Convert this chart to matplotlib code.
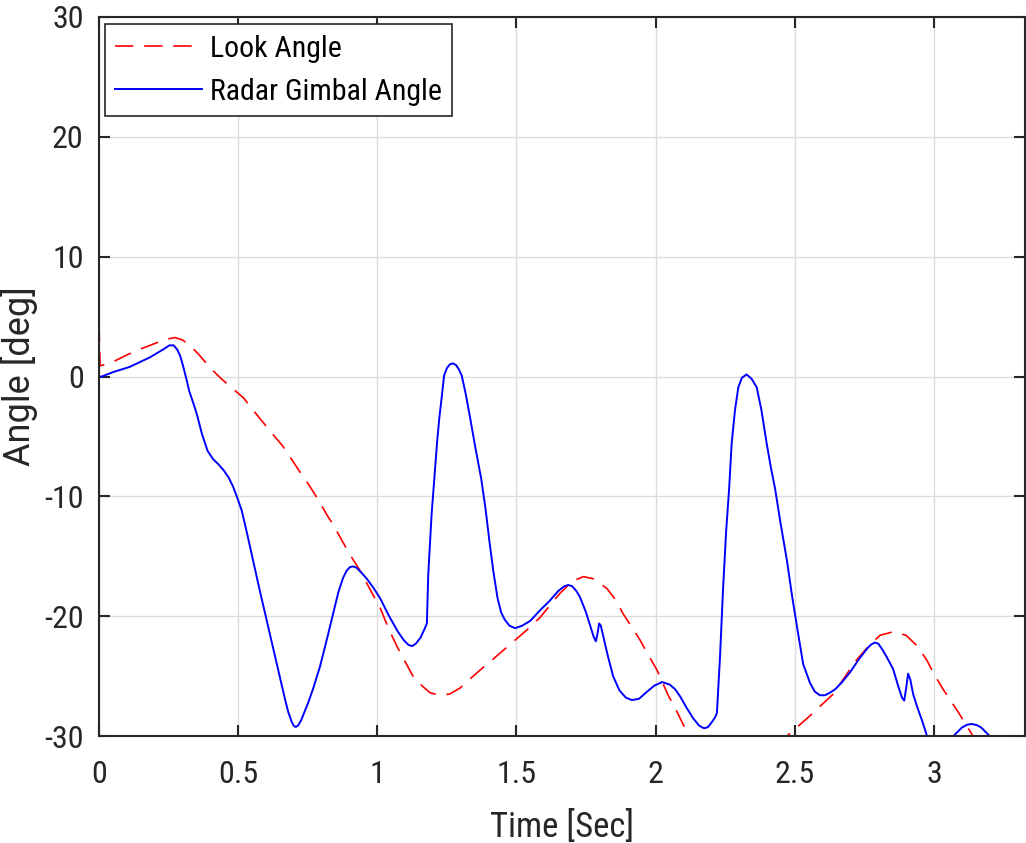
import matplotlib
matplotlib.use("Agg")
import matplotlib.pyplot as plt
from matplotlib import font_manager

# ---------------- data ----------------
look_t = [0.0, 0.004, 0.04, 0.1, 0.15, 0.2, 0.24, 0.273, 0.30, 0.327, 0.36, 0.40, 0.44, 0.48,
          0.52, 0.55, 0.585, 0.62, 0.66, 0.686, 0.72, 0.75, 0.783, 0.82, 0.84, 0.866, 0.90,
          0.938, 0.97, 1.01, 1.04, 1.07, 1.10, 1.128, 1.16, 1.19, 1.225, 1.26, 1.297, 1.33,
          1.369, 1.40, 1.45, 1.50, 1.54, 1.585, 1.62, 1.656, 1.70, 1.74, 1.78, 1.825, 1.855,
          1.883, 1.914, 1.944, 1.975, 2.005, 2.045, 2.075, 2.098, 2.12, 2.17, 2.23, 2.29,
          2.35, 2.41, 2.472, 2.555, 2.638, 2.72, 2.765, 2.806, 2.854, 2.90, 2.94, 2.975,
          2.997, 3.03, 3.087, 3.14, 3.2, 3.27, 3.33]
look_a = [4.5, 0.9, 1.1, 1.8, 2.3, 2.75, 3.1, 3.25, 3.05, 2.6, 1.8, 0.7, -0.2, -1.0,
          -1.8, -2.7, -3.7, -4.7, -5.8, -6.7, -7.9, -8.9, -10.1, -11.6, -12.3, -13.4, -14.8,
          -16.2, -17.6, -19.3, -21.0, -22.5, -23.8, -25.0, -25.8, -26.4, -26.6, -26.5, -26.0, -25.3,
          -24.5, -23.9, -22.9, -21.9, -21.1, -20.1, -19.1, -18.1, -17.1, -16.7, -16.9, -17.7, -18.6,
          -19.8, -20.9, -22.0, -23.3, -24.5, -26.6, -27.9, -29.0, -30.0, -32.5, -34.3, -35.0,
          -34.5, -32.6, -30.0, -28.3, -26.5, -23.7, -22.5, -21.6, -21.3, -21.6, -22.5, -23.7,
          -24.7, -26.0, -28.0, -30.0, -32.2, -34.5, -36.0]

gimbal_t = [0.0, 0.01, 0.05, 0.11, 0.183, 0.23, 0.253, 0.268, 0.281, 0.292, 0.303, 0.315,
            0.324, 0.34, 0.351, 0.37, 0.39, 0.41, 0.428, 0.447, 0.465, 0.482, 0.498, 0.513,
            0.533, 0.554, 0.578, 0.603, 0.627, 0.65, 0.668, 0.68, 0.692, 0.700, 0.707, 0.716,
            0.726, 0.738, 0.752, 0.77, 0.794, 0.818, 0.841, 0.86, 0.877, 0.89, 0.902, 0.913,
            0.925, 0.94, 0.963, 0.985, 1.01, 1.04, 1.074, 1.095, 1.112, 1.125, 1.138, 1.155,
            1.171, 1.178, 1.183, 1.195, 1.205, 1.215, 1.223, 1.232, 1.240, 1.25, 1.26, 1.271,
            1.283, 1.293, 1.303, 1.318, 1.333, 1.352, 1.373, 1.388, 1.403, 1.417, 1.432, 1.445,
            1.458, 1.475, 1.495, 1.52, 1.549, 1.585, 1.62, 1.65, 1.672, 1.686, 1.70, 1.715,
            1.728, 1.75, 1.777, 1.785, 1.79, 1.797, 1.803, 1.81, 1.828, 1.847, 1.87, 1.893,
            1.915, 1.94, 1.969, 1.995, 2.023, 2.05, 2.07, 2.088, 2.11, 2.134, 2.155, 2.168,
            2.177, 2.188, 2.20, 2.212, 2.22, 2.231, 2.242, 2.253, 2.264, 2.273, 2.285, 2.297,
            2.31, 2.327, 2.345, 2.363, 2.38, 2.399, 2.414, 2.429, 2.447, 2.472, 2.49, 2.508,
            2.53, 2.555, 2.572, 2.59, 2.608, 2.625, 2.645, 2.67, 2.698, 2.73, 2.76, 2.775,
            2.788, 2.80, 2.815, 2.83, 2.853, 2.871, 2.885, 2.893, 2.9, 2.907, 2.915, 2.925,
            2.94, 2.957, 2.975, 2.995, 3.02, 3.045, 3.07, 3.10, 3.12, 3.137, 3.155, 3.17,
            3.2, 3.23, 3.27, 3.33]
gimbal_a = [0.0, 0.0, 0.36, 0.8, 1.6, 2.25, 2.6, 2.6, 2.25, 1.7, 0.8, -0.3,
            -1.2, -2.3, -3.1, -4.8, -6.2, -6.9, -7.3, -7.8, -8.4, -9.2, -10.2, -11.2,
            -13.2, -15.4, -17.9, -20.4, -22.8, -25.1, -26.9, -28.0, -28.8, -29.15, -29.25, -29.1,
            -28.7, -28.0, -27.2, -26.0, -24.2, -22.0, -19.8, -18.0, -16.8, -16.2, -15.9, -15.85,
            -15.95, -16.3, -16.9, -17.6, -18.5, -19.9, -21.3, -22.0, -22.4, -22.5, -22.3, -21.8,
            -21.0, -20.6, -16.5, -11.5, -8.5, -5.4, -3.4, -1.6, 0.1, 0.7, 1.0, 1.1,
            0.95, 0.6, 0.1, -1.5, -3.4, -5.9, -8.5, -10.9, -13.8, -16.3, -18.5, -19.7,
            -20.3, -20.8, -21.0, -20.8, -20.4, -19.5, -18.7, -17.9, -17.5, -17.4, -17.5, -17.9,
            -18.4, -19.7, -21.7, -22.1, -21.6, -20.6, -20.8, -21.5, -23.3, -25.0, -26.2, -26.8,
            -27.0, -26.9, -26.3, -25.8, -25.5, -25.7, -26.1, -26.7, -27.6, -28.5, -29.1, -29.3,
            -29.35, -29.25, -28.9, -28.5, -28.1, -23.5, -17.8, -13.0, -9.35, -5.6, -2.8, -0.9,
            -0.1, 0.17, -0.2, -0.9, -2.8, -5.6, -7.6, -9.35, -12.0, -15.4, -18.3, -20.9,
            -24.0, -25.6, -26.3, -26.6, -26.6, -26.4, -26.1, -25.5, -24.7, -23.6, -22.7, -22.35,
            -22.2, -22.3, -22.8, -23.4, -24.4, -25.8, -26.8, -27.05, -26.0, -24.8, -25.3, -26.5,
            -27.6, -28.7, -30.0, -31.0, -31.4, -30.8, -30.0, -29.3, -29.05, -29.0, -29.1, -29.3,
            -30.0, -31.0, -32.5, -34.0]

x_ticks = [0, 0.5, 1, 1.5, 2, 2.5, 3]
x_tick_labels = ["0", "0.5", "1", "1.5", "2", "2.5", "3"]
y_ticks = [-30, -20, -10, 0, 10, 20, 30]
y_tick_labels = ["-30", "-20", "-10", "0", "10", "20", "30"]
series_labels = ["Look Angle", "Radar Gimbal Angle"]
x_label = "Time [Sec]"
y_label = "Angle [deg]"

# ---------------- style ----------------
names = {f.name for f in font_manager.fontManager.ttflist}
narrow = next((n for n in ["Liberation Sans Narrow", "Roboto Condensed", "Archivo Narrow",
                            "PT Sans Narrow"] if n in names), "Liberation Sans")
plt.rcParams["font.family"] = [narrow, "DejaVu Sans"]
plt.rcParams["axes.unicode_minus"] = False
axc = "#262626"

fig = plt.figure(figsize=(10.26, 8.43), dpi=100)
ax = fig.add_axes([99 / 1026, 1 - 736 / 843, 926 / 1026, 719 / 843])

ax.plot(look_t, look_a, color=(1, 0, 0), lw=1.2, dashes=(11, 6.5), label=series_labels[0])
ax.plot(gimbal_t, gimbal_a, color=(0, 0, 1), lw=1.4, label=series_labels[1])

ax.set_xlim(0, 3.327)
ax.set_ylim(-30, 30)
ax.set_xticks(x_ticks)
ax.set_xticklabels(x_tick_labels)
ax.set_yticks(y_ticks)
ax.set_yticklabels(y_tick_labels)

ax.grid(True, color="#dcdcdc", lw=1.0)
ax.set_axisbelow(True)
for s in ax.spines.values():
    s.set_color(axc)
    s.set_linewidth(1.5)
ax.tick_params(axis="both", which="major", direction="in", length=8, width=1.5,
               colors=axc, labelsize=23, top=True, right=True)
ax.tick_params(axis="x", pad=17)
ax.tick_params(axis="y", pad=11)

ax.set_xlabel(x_label, fontsize=25, color=axc)
ax.xaxis.set_label_coords(0.5, -0.103)
ax.set_ylabel(y_label, fontsize=26, color=axc,
              family=["Roboto", "Liberation Sans", "DejaVu Sans"])
ax.yaxis.set_label_coords(-0.066, 0.5)

leg = ax.legend(loc="upper left", bbox_to_anchor=(0.0065, 0.99), borderaxespad=0,
                prop={"size": 21.5}, frameon=True, fancybox=False, handlelength=2.9,
                handletextpad=0.25, labelspacing=0.5, borderpad=0.35)
leg.get_frame().set_edgecolor(axc)
leg.get_frame().set_linewidth(1.2)
leg.get_frame().set_alpha(1)

fig.savefig("out.png", dpi=100)
